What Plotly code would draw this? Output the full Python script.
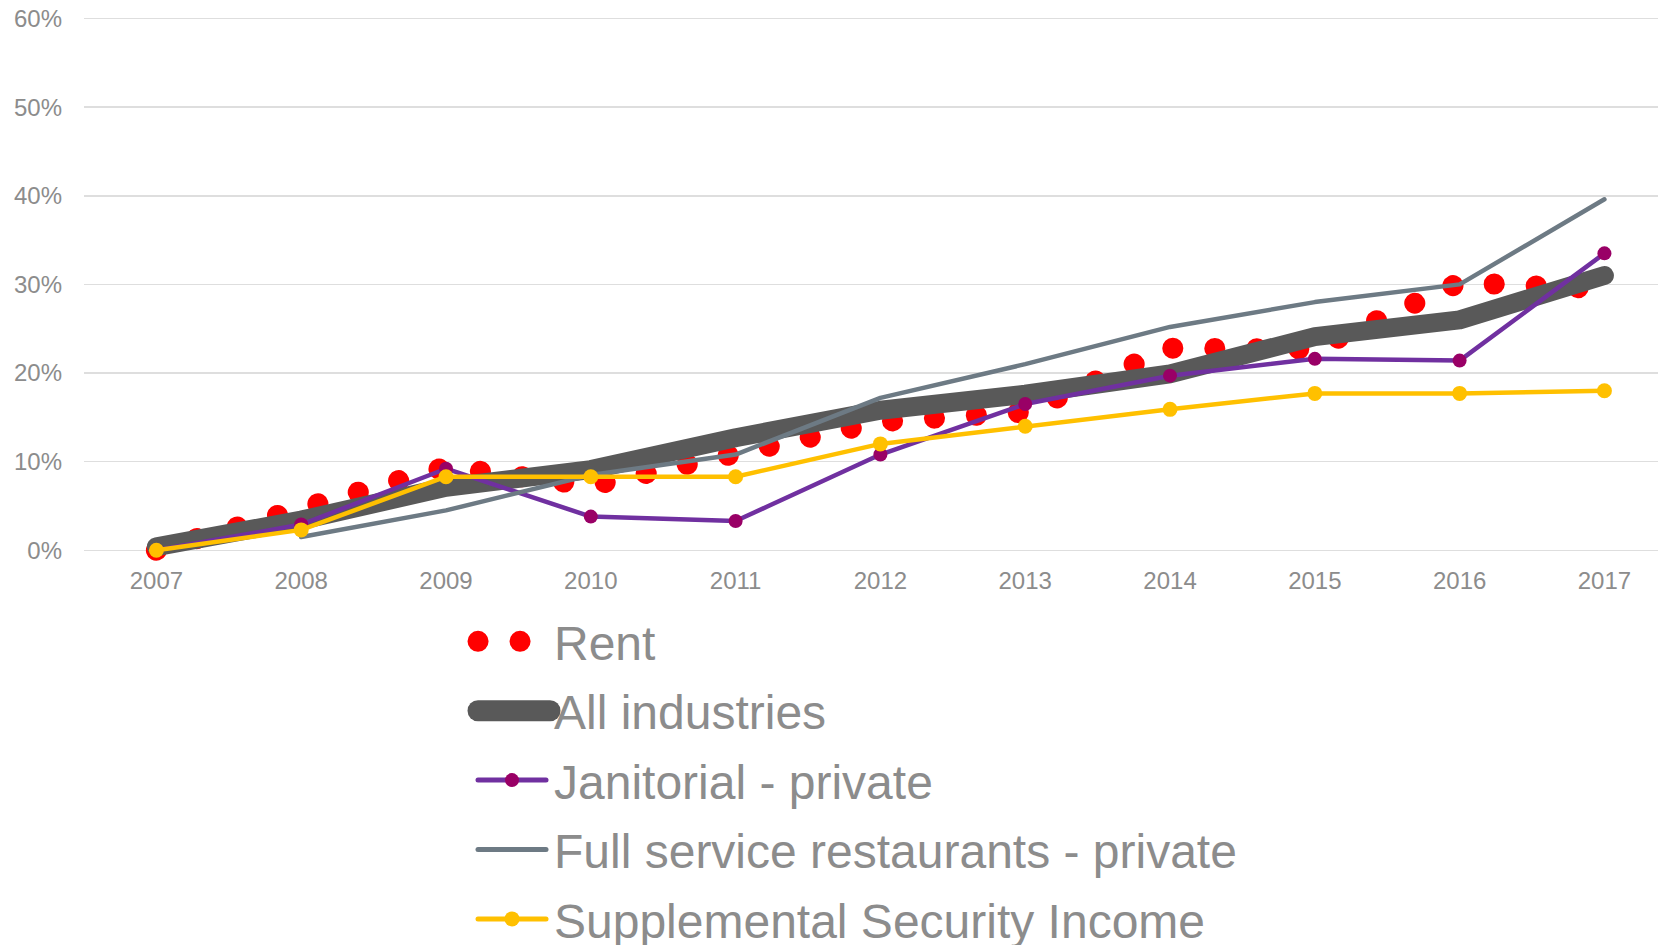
import plotly.graph_objects as go

years = [2007, 2008, 2009, 2010, 2011, 2012, 2013, 2014, 2015, 2016, 2017]
year_labels = [str(y) for y in years]

rent = [0.0, 4.4, 9.4, 7.3, 10.8, 14.5, 15.6, 22.8, 22.7, 30.2, 29.5]
all_industries = [0.4, 3.4, 7.1, 9.1, 12.7, 15.8, 17.6, 19.9, 24.1, 26.0, 31.0]
janitorial = [0.0, 2.9, 9.2, 3.8, 3.3, 10.8, 16.5, 19.7, 21.6, 21.4, 33.5]
restaurants = [None, 1.5, 4.5, 8.5, 10.8, 17.2, 21.0, 25.2, 28.0, 30.0, 39.6]
ssi = [0.0, 2.3, 8.3, 8.3, 8.3, 12.0, 14.0, 15.9, 17.7, 17.7, 18.0]

series_names = ["Rent", "All industries", "Janitorial - private",
                "Full service restaurants - private", "Supplemental Security Income"]

y_ticks = [0, 10, 20, 30, 40, 50, 60]
y_tick_labels = [f"{v}%" for v in y_ticks]

FONT = "Liberation Sans, Arial, sans-serif"
GREY_TXT = "#8C8C8C"

fig = go.Figure()
fig.add_trace(go.Scatter(x=years, y=rent, name=series_names[0], mode="lines",
                         line=dict(color="#FF0000", width=21, dash="0.1px,41.9px"),
                         legendgroup="a"))
fig.add_trace(go.Scatter(x=years, y=all_industries, name=series_names[1], mode="lines",
                         line=dict(color="#595959", width=19), legendgroup="b"))
fig.add_trace(go.Scatter(x=years, y=janitorial, name=series_names[2], mode="lines+markers",
                         line=dict(color="#7030A0", width=4.5),
                         marker=dict(color="#990066", size=14), legendgroup="c"))
fig.add_trace(go.Scatter(x=years, y=restaurants, name=series_names[3], mode="lines",
                         line=dict(color="#6D7A84", width=4.5), legendgroup="d"))
fig.add_trace(go.Scatter(x=years, y=ssi, name=series_names[4], mode="lines+markers",
                         line=dict(color="#FFC000", width=4.5),
                         marker=dict(color="#FFC000", size=15), legendgroup="e"))

fig.update_layout(
    width=1658, height=945,
    paper_bgcolor="white", plot_bgcolor="white",
    margin=dict(l=84, r=0, t=16, b=377, autoexpand=False),
    font=dict(family=FONT, color=GREY_TXT, size=24),
    showlegend=True,
    hovermode=False,
    legend=dict(x=(464 - 84) / 1574, xanchor="left", y=-0.0645, yanchor="top",
                font=dict(family=FONT, size=48, color=GREY_TXT),
                itemwidth=80, tracegroupgap=4, bgcolor="rgba(0,0,0,0)",
                traceorder="grouped"),
    xaxis=dict(range=[2006.5, 2017.37], tickvals=years, ticktext=year_labels,
               showgrid=False, zeroline=False, showline=False, ticks="",
               tickfont=dict(size=24, color=GREY_TXT, family=FONT),
               ticklabelstandoff=-4),
    yaxis=dict(range=[-2, 60.28], tickvals=y_ticks, ticktext=y_tick_labels,
               showgrid=True, gridcolor="#DEDEDE", gridwidth=1.5,
               zeroline=False, showline=False, ticks="",
               tickfont=dict(size=24, color=GREY_TXT, family=FONT),
               ticklabelstandoff=21),
)

post = """
document.body.style.margin = '0';
document.body.style.overflow = 'hidden';
var gd = document.getElementById('{plot_id}');
function fixStyle(){
  gd.querySelectorAll('.scatterlayer path.js-line').forEach(function(p){
    p.style.strokeLinecap = 'round'; p.style.strokeLinejoin = 'round';
  });
  var widths = [21, 21, 5, 5, 5];
  var paths = ['M14,0h72', 'M14,0h72', 'M14,0h68', 'M14,0h68', 'M14,0h68'];
  gd.querySelectorAll('.legend .traces').forEach(function(it, i){
    var lp = it.querySelector('.legendlines path');
    if (lp) {
      lp.setAttribute('d', paths[i]);
      lp.style.strokeWidth = widths[i] + 'px';
      lp.style.strokeLinecap = 'round';
    }
    it.querySelectorAll('.legendpoints path').forEach(function(p){
      p.setAttribute('transform', 'translate(48,0)');
    });
  });
}
fixStyle();
gd.on('plotly_afterplot', fixStyle);
"""

fig.write_html("out.html", post_script=post,
               config={"displayModeBar": False, "staticPlot": True})
